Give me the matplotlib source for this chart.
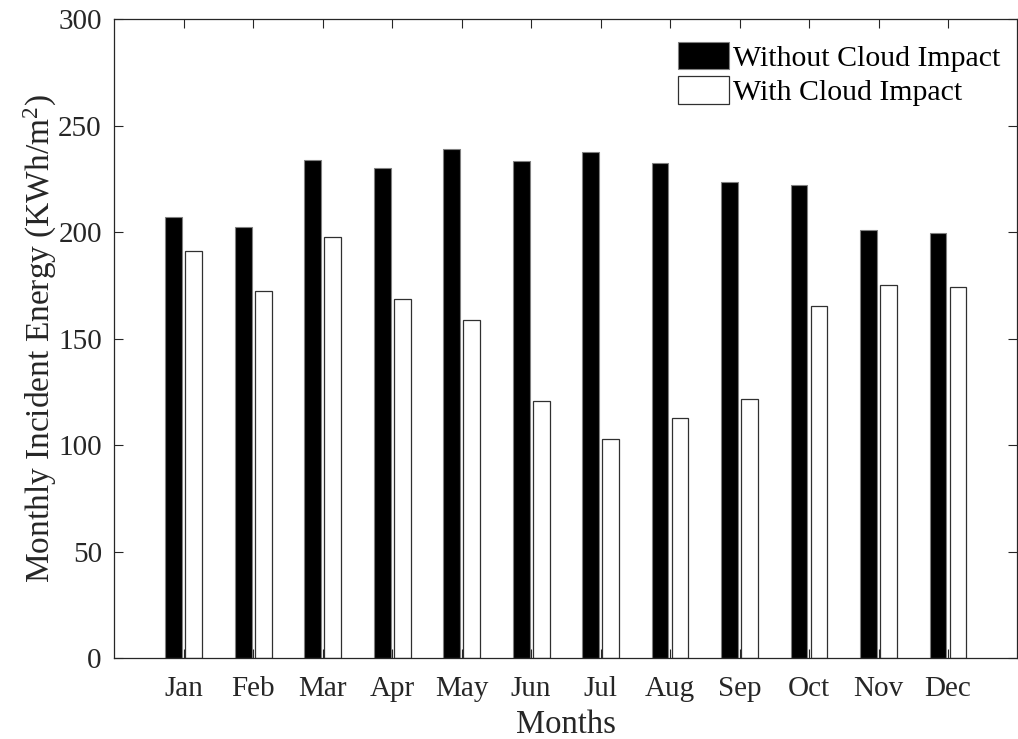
import matplotlib
matplotlib.use("Agg")
import matplotlib.pyplot as plt
import numpy as np

months = ["Jan", "Feb", "Mar", "Apr", "May", "Jun", "Jul", "Aug", "Sep", "Oct", "Nov", "Dec"]
without_cloud = [207.0, 202.4, 233.8, 230.0, 239.2, 233.3, 237.5, 232.3, 223.4, 222.2, 201.2, 199.5]
with_cloud = [191.3, 172.4, 197.6, 168.6, 158.6, 120.9, 102.9, 112.6, 121.8, 165.2, 175.1, 174.1]

plt.rcParams['font.family'] = ['Liberation Serif', 'DejaVu Serif']
plt.rcParams['mathtext.fontset'] = 'custom'
plt.rcParams['mathtext.rm'] = 'Liberation Serif'
plt.rcParams['mathtext.it'] = 'Liberation Serif:italic'

fig = plt.figure(figsize=(10.18, 7.39), dpi=100)
ax = fig.add_axes([0.1123, 0.1096, 0.8872, 0.8643])

x = np.arange(1, len(months) + 1)
off = 0.144
w = 0.24
ax.bar(x - off, without_cloud, width=w, color='black', edgecolor='#808080', linewidth=0.8,
       label='Without Cloud Impact')
ax.bar(x + off, with_cloud, width=w, color='white', edgecolor='#303030', linewidth=0.9,
       label='With Cloud Impact')

ax.set_xlim(0, 13)
ax.set_ylim(0, 300)
ax.set_xticks(x)
ax.set_xticklabels(months)
ax.set_yticks(np.arange(0, 301, 50))
ax.tick_params(direction='in', top=True, right=True, length=6.5, width=0.8,
               labelsize=21, colors='#262626')
ax.tick_params(axis='x', pad=13)
ax.tick_params(axis='y', pad=9)
for s in ax.spines.values():
    s.set_linewidth(0.9)
    s.set_color('#262626')

ax.set_xlabel('Months', fontsize=23.5, color='#262626', labelpad=5)
ax.set_ylabel('Monthly Incident Energy (KWh/m$^2$)', fontsize=24, color='#262626', labelpad=-1)

leg = ax.legend(loc='upper right', frameon=False, fontsize=21.5, handlelength=1.7, handleheight=1.05,
                handletextpad=0.13, labelspacing=0.15, borderaxespad=0.0, borderpad=0.0,
                bbox_to_anchor=(0.981, 0.965))

fig.savefig('out.png', dpi=100)
